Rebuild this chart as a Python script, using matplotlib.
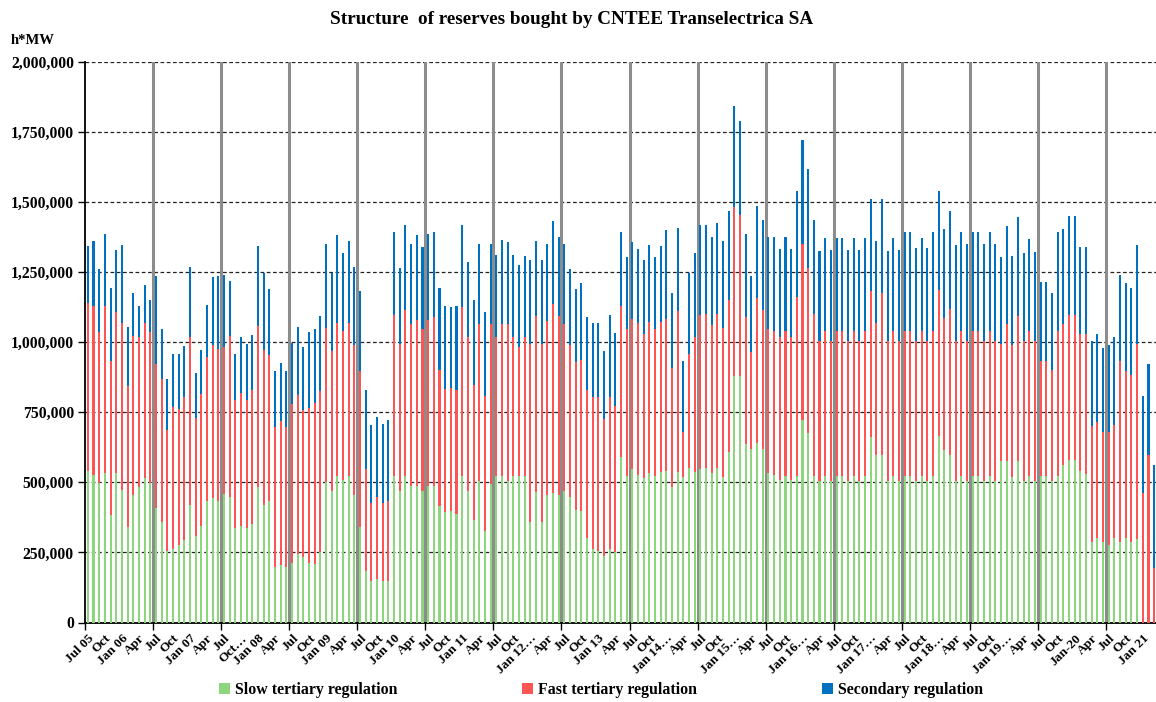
import matplotlib
matplotlib.use("Agg")
import matplotlib.pyplot as plt
import numpy as np
from matplotlib.patches import Patch
from matplotlib.ticker import FuncFormatter

# Monthly values (thousand h*MW), Jul 2005 .. Mar 2021, one row per Jul-Jun year
slow_tertiary = [
    540, 528, 498, 532, 385, 532, 473, 340, 455, 485, 516, 498,
    407, 358, 255, 261, 275, 294, 421, 309, 346, 433, 445, 433,
    459, 449, 336, 346, 336, 352, 482, 421, 433, 197, 204, 197,
    212, 243, 233, 212, 209, 252, 501, 471, 524, 510, 524, 455,
    342, 184, 148, 155, 148, 148, 524, 471, 524, 488, 488, 471,
    488, 488, 415, 394, 398, 388, 524, 471, 367, 504, 325, 494,
    524, 524, 504, 524, 524, 524, 358, 464, 358, 455, 461, 455,
    471, 447, 403, 398, 303, 261, 255, 237, 261, 252, 590, 524,
    546, 528, 516, 532, 524, 536, 540, 485, 536, 519, 552, 536,
    549, 552, 532, 552, 519, 607, 881, 881, 637, 619, 640, 619,
    532, 527, 510, 524, 510, 524, 722, 676, 524, 504, 524, 504,
    524, 524, 504, 524, 504, 524, 661, 597, 597, 504, 524, 504,
    524, 524, 504, 524, 504, 524, 667, 615, 597, 504, 524, 504,
    524, 524, 504, 524, 504, 576, 576, 519, 576, 504, 524, 504,
    524, 524, 504, 524, 562, 580, 580, 542, 530, 289, 301, 289,
    277, 301, 289, 301, 289, 297, 0, 0, 0,
]
fast_tertiary = [
    601, 601, 540, 597, 549, 575, 597, 503, 569, 532, 552, 540,
    515, 512, 433, 507, 486, 511, 596, 422, 471, 514, 544, 544,
    524, 573, 459, 474, 459, 478, 576, 552, 523, 501, 514, 501,
    568, 570, 526, 553, 574, 573, 549, 496, 546, 531, 546, 534,
    554, 362, 277, 292, 277, 286, 572, 522, 590, 576, 592, 575,
    592, 602, 487, 440, 439, 442, 601, 546, 480, 560, 484, 570,
    493, 540, 560, 493, 459, 493, 635, 631, 635, 621, 676, 640,
    593, 542, 528, 540, 525, 542, 548, 488, 542, 522, 541, 522,
    538, 540, 512, 540, 522, 538, 544, 423, 574, 161, 407, 481,
    547, 550, 530, 550, 531, 543, 603, 573, 452, 346, 519, 495,
    514, 514, 507, 517, 507, 637, 628, 590, 578, 500, 516, 500,
    516, 516, 500, 516, 500, 516, 522, 471, 578, 500, 516, 500,
    516, 516, 500, 516, 500, 516, 520, 471, 522, 500, 516, 500,
    516, 516, 500, 516, 500, 417, 488, 470, 516, 500, 516, 500,
    410, 410, 398, 516, 502, 516, 516, 486, 498, 412, 415, 391,
    403, 403, 645, 595, 593, 696, 461, 597, 194,
]
secondary = [
    202, 233, 222, 257, 261, 222, 277, 213, 153, 114, 137, 112,
    313, 176, 180, 191, 198, 180, 251, 160, 156, 185, 243, 261,
    257, 198, 164, 197, 198, 195, 285, 273, 233, 198, 207, 198,
    218, 243, 224, 273, 263, 267, 301, 279, 314, 278, 292, 279,
    287, 284, 281, 287, 285, 288, 296, 272, 303, 287, 304, 293,
    306, 302, 293, 297, 289, 301, 295, 269, 303, 287, 298, 287,
    296, 301, 292, 296, 291, 291, 299, 267, 299, 275, 295, 282,
    287, 271, 258, 272, 261, 265, 265, 243, 294, 258, 261, 259,
    272, 265, 264, 275, 259, 269, 315, 269, 298, 254, 289, 300,
    324, 318, 315, 324, 312, 318, 359, 335, 297, 270, 328, 324,
    331, 333, 314, 333, 314, 377, 373, 351, 334, 322, 331, 325,
    331, 331, 325, 331, 325, 331, 328, 295, 336, 322, 331, 325,
    354, 354, 333, 331, 333, 354, 354, 318, 349, 343, 354, 347,
    354, 354, 347, 354, 347, 312, 352, 319, 355, 313, 329, 319,
    280, 280, 273, 354, 340, 354, 354, 311, 311, 303, 312, 301,
    309, 315, 306, 314, 310, 354, 348, 325, 368,
]
tick_labels = [
    "Jul 05", "Oct", "Jan 06", "Apr", "Jul", "Oct", "Jan 07", "Apr",
    "Jul", "Oct…", "Jan 08", "Apr", "Jul", "Oct", "Jan 09", "Apr",
    "Jul", "Oct", "Jan 10", "Apr", "Jul", "Oct", "Jan 11", "Apr",
    "Jul", "Oct", "Jan 12…", "Apr", "Jul", "Oct", "Jan 13", "Apr",
    "Jul", "Oct", "Jan 14…", "Apr", "Jul", "Oct", "Jan 15…", "Apr",
    "Jul", "Oct", "Jan 16…", "Apr", "Jul", "Oct", "Jan 17…", "Apr",
    "Jul", "Oct", "Jan 18…", "Apr", "Jul", "Oct", "Jan 19…", "Apr",
    "Jul", "Oct", "Jan-20", "Apr", "Jul", "Oct", "Jan 21",
]
series_names = ["Slow tertiary regulation", "Fast tertiary regulation", "Secondary regulation"]
colors = ["#8ED67E", "#FF5454", "#0070C0"]

plt.rcParams['font.family'] = ['Liberation Serif', 'DejaVu Serif']
plt.rcParams['font.weight'] = 'bold'

s = np.array(slow_tertiary) * 1000.0
f = np.array(fast_tertiary) * 1000.0
c = np.array(secondary) * 1000.0
n = len(s)
x = np.arange(n)

W, H = 1156, 702
fig = plt.figure(figsize=(W / 100, H / 100), dpi=100)
ax = fig.add_axes([85 / W, 1 - 622.5 / H, (1157 - 85) / W, (622.5 - 62) / H])

bw = 0.36
ax.bar(x, s, bw, color=colors[0], linewidth=0, zorder=3)
ax.bar(x, f, bw, bottom=s, color=colors[1], linewidth=0, zorder=3)
ax.bar(x, c, bw, bottom=s + f, color=colors[2], linewidth=0, zorder=3)

ax.set_xlim(-0.5, n - 0.5)
ax.set_ylim(0, 2_000_000)
yt = np.arange(0, 2_000_001, 250_000)
ax.set_yticks(yt)
ax.yaxis.set_major_formatter(FuncFormatter(lambda v, p: f"{int(v):,}"))
for yv in yt[1:]:
    ax.axhline(yv, color="#222222", lw=0.9, ls=(0, (3, 2)), zorder=1)

for b in np.arange(11.5, n - 0.5, 12):
    ax.axvline(b, color="#8c8c8c", lw=2.2, zorder=2)

ax.set_xticks(np.arange(0, n, 3))
ax.set_xticklabels(tick_labels, rotation=45, ha="right", va="top",
                   rotation_mode="anchor", fontsize=9.5, fontweight="bold")
ax.set_xticks(np.arange(-0.5, n, 12), minor=True)
ax.tick_params(axis="x", which="major", length=0, pad=7)
ax.tick_params(axis="x", which="minor", length=5, width=1, color="black")
ax.tick_params(axis="y", length=5, width=1, labelsize=11.3, pad=3)
for lab in ax.get_yticklabels():
    lab.set_fontweight("bold")

for sp in ["top", "right"]:
    ax.spines[sp].set_visible(False)
ax.spines["left"].set_linewidth(1.3)
ax.spines["bottom"].set_linewidth(1.3)

fig.text(572 / W, 1 - 20 / H, "Structure  of reserves bought by CNTEE Transelectrica SA",
         ha="center", va="center", fontsize=13.8, fontweight="bold")
fig.text(11 / W, 1 - 40 / H, "h*MW", ha="left", va="center", fontsize=10.5, fontweight="bold")

handles = [Patch(facecolor=col, edgecolor="none") for col in colors]
fig.legend(handles, series_names, loc="center", bbox_to_anchor=(601 / W, 1 - 690 / H),
           ncol=3, frameon=False, columnspacing=7.9, handlelength=0.7, handleheight=0.7,
           handletextpad=0.3, prop={"size": 11.4, "weight": "bold"})

fig.savefig("out.png", dpi=100)
